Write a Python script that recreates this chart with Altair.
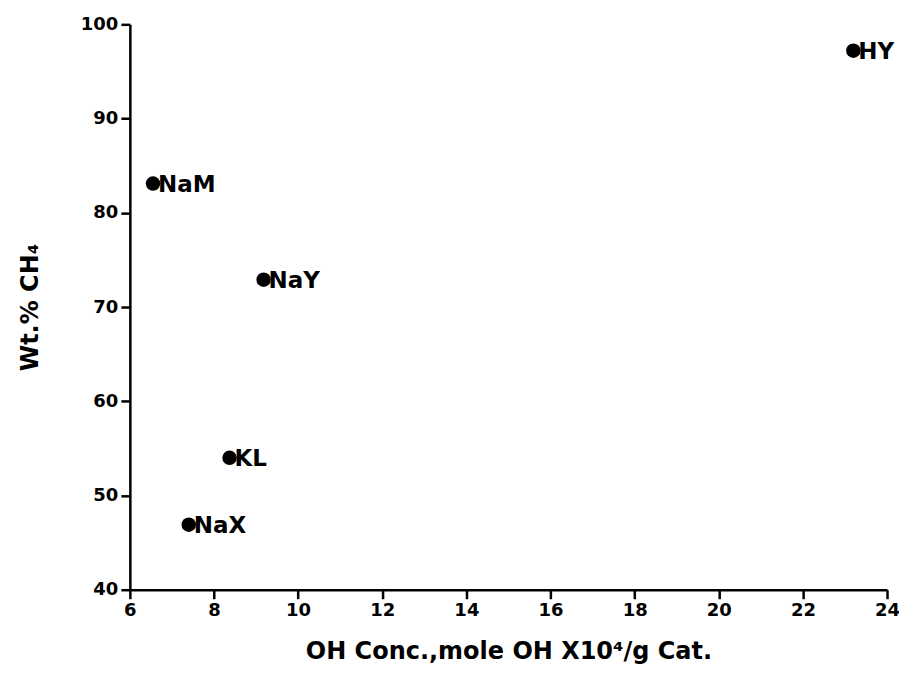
import altair as alt
import pandas as pd

names = ["NaM", "NaY", "KL", "NaX", "HY"]
oh_conc = [6.55, 9.18, 8.37, 7.40, 23.2]
wt_ch4 = [83.1, 72.9, 54.0, 46.9, 97.2]

df = pd.DataFrame({"name": names, "oh": oh_conc, "ch4": wt_ch4})

FONT = "DejaVu Sans"

x = alt.X("oh:Q", scale=alt.Scale(domain=[6, 24], nice=False, zero=False),
          axis=alt.Axis(title="OH Conc.,mole OH X10⁴/g Cat.",
                        values=[6, 8, 10, 12, 14, 16, 18, 20, 22, 24]))
y = alt.Y("ch4:Q", scale=alt.Scale(domain=[40, 100], nice=False, zero=False),
          axis=alt.Axis(title="Wt.% CH₄", values=[40, 50, 60, 70, 80, 90, 100]))

pts = alt.Chart(df).mark_circle(size=210, color="black", opacity=1).encode(x=x, y=y)
lbl = alt.Chart(df).mark_text(align="left", baseline="middle", dx=5, dy=1,
                              font=FONT, fontSize=23, fontWeight="bold",
                              color="black").encode(x=x, y=y, text="name:N")

chart = (pts + lbl).properties(
    width=758, height=566,
    autosize=alt.AutoSizeParams(type="none"),
    padding={"left": 122, "top": 16, "right": 12, "bottom": 78},
).configure_view(stroke=None).configure_axis(
    grid=False, domainColor="black", domainWidth=2.5, tickColor="black",
    tickWidth=2.5, tickSize=9, labelFont=FONT, labelFontSize=18,
    labelFontWeight="bold", labelColor="black", titleFont=FONT,
    titleFontSize=24, titleFontWeight="bold", titleColor="black",
    labelPadding=3, labelFlush=False,
).configure_axisY(titlePadding=38).configure_axisX(titlePadding=20)

chart.save("out.html", embed_options={"renderer": "svg", "actions": False})
